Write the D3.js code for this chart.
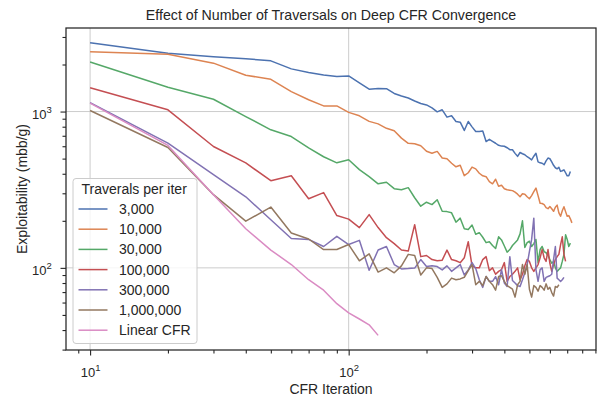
<!DOCTYPE html>
<html>
<head>
<meta charset="utf-8">
<script src="https://cdn.jsdelivr.net/npm/d3@7"></script>
<style>
  body { margin: 0; background: #fff; }
  svg text { font-family: "Liberation Sans", Arial, sans-serif; fill: #262626; }
</style>
</head>
<body>
<div id="chart"></div>
<script>
// CFR iterations at which exploitability was measured
const iterations = [10, 20, 30, 40, 50, 60, 70, 80, 90, 100, 110, 120, 130, 140, 150, 160, 170, 180, 190, 200,
    210, 220, 230, 240, 250, 260, 270, 280, 290, 300, 310, 320, 330, 340, 350, 360, 370, 380, 390, 400,
    410, 420, 430, 440, 450, 460, 470, 480, 490, 500, 510, 520, 530, 540, 550, 560, 570, 580, 590, 600,
    610, 620, 630, 640, 650, 660, 670, 680, 690, 700, 710, 720, 730]

const seriesNames = ["3,000", "10,000", "30,000", "100,000", "300,000", "1,000,000", "Linear CFR"]

const trav3k = [2760, 2360, 2245, 2180, 2110, 1875, 1780, 1715, 1678, 1690,
    1525, 1390, 1403, 1400, 1306, 1259, 1222, 1169, 1127, 1103,
    1056, 996, 1026, 921, 939, 863, 855, 757, 863, 798,
    745, 745, 750, 643, 664, 645, 627, 608, 601, 600,
    587, 570, 570, 540, 517, 547, 537, 529, 514, 503,
    491, 518, 541, 477, 470, 467, 457, 484, 504, 499,
    477, 453, 437, 430, 440, 414, 418, 424, 406, 388,
    388, 414]
const trav10k = [2415, 2328, 2040, 1708, 1609, 1342, 1190, 1087, 1087, 988,
    939, 865, 834, 781, 753, 676, 626, 622, 604, 557,
    541, 556, 504, 499, 467, 443, 453, 389, 406, 441,
    430, 403, 388, 383, 356, 345, 369, 333, 338, 321,
    316, 314, 312, 305, 296, 285, 298, 296, 285, 277,
    290, 307, 324, 290, 259, 258, 254, 243, 239, 247,
    239, 230, 244, 252, 225, 214, 232, 246, 229, 214,
    216, 206, 194]
const trav30k = [2075, 1432, 1199, 929, 764, 692, 586, 514, 470, 492,
    425, 383, 345, 353, 321, 316, 326, 281, 248, 263,
    254, 273, 230, 229, 225, 196, 208, 178, 176, 188,
    164, 168, 157, 145, 147, 139, 133, 158, 151, 138,
    126, 131, 139, 145, 151, 165, 200, 135, 145, 148,
    137, 143, 152, 108, 131, 137, 127, 125, 120, 113,
    107, 110, 100, 95, 97.5, 100, 110, 122, 163, 152,
    137, 144]
const trav100k = [1422, 1026, 598, 469, 361, 388, 277, 303, 216, 205,
    181, 219, 181, 156, 143, 130, 128, 189, 118, 120,
    113, 111, 112, 130, 113, 111, 108, 116, 147, 103,
    100, 100, 113, 118, 96, 100, 91, 95, 97.5, 108,
    82, 88, 91, 95, 100, 84, 91, 103, 113, 110,
    100, 95, 100, 105, 116, 131, 116, 110, 131, 107,
    95, 105, 113, 118, 122, 141, 158, 122, 110]
const trav300k = [1140, 628, 395, 285, 203, 154, 152, 137, 159, 141,
    150, 96.6, 130, 137, 105, 98.5, 99, 99.7, 113, 102,
    103, 102, 97, 103, 95, 100, 105, 90, 97, 108,
    99, 84, 75, 88, 82, 82, 88, 78, 97.5, 80,
    76, 118, 83, 80, 77, 76, 84, 93, 105, 127,
    152, 208, 97.5, 82, 97.5, 100, 82, 87, 88, 89,
    91, 113, 137, 86, 84, 82, 84, 87]
const trav1m = [1015, 589, 294, 199, 245, 167, 153, 131, 131, 141,
    111, 123, 94, 100, 93, 103, 122, 120, 90, 100,
    99, 87, 75, 79, 86, 84, 85, 87, 96, 105,
    78, 82, 77, 88, 82, 78, 72, 88, 89, 82,
    77, 75, 73, 65, 78, 82, 105, 91, 105, 73,
    65, 77, 75, 71, 77, 75, 72, 79, 73, 75,
    69.5, 66, 76, 75, 78]
const linearCfr = [1132, 607, 294, 178, 130, 105, 84, 72, 59, 51.6, 47.1, 43.2, 37.0]

const colors = ["#4c72b0", "#dd8452", "#55a868", "#c44e52", "#8172b3", "#937860", "#da8bc3"]

const series = [trav3k, trav10k, trav30k, trav100k, trav300k, trav1m, linearCfr].map((vals, i) => ({
    name: seriesNames[i],
    color: colors[i],
    data: vals.map((v, j) => ({it: iterations[j], value: v}))
}))

const width = 600, height = 399
const margin = ({top: 28, right: 4, bottom: 49, left: 66})

const svg = d3.select('#chart').append('svg')
    .attr('width', width)
    .attr('height', height)

// matplotlib-like 5% margins in log space
function logDomain(lo, hi) {
    const a = Math.log10(lo), b = Math.log10(hi), pad = (b - a) * 0.05
    return [Math.pow(10, a - pad), Math.pow(10, b + pad)]
}

const allPts = series.flatMap(s => s.data)
const xScale = d3.scaleLog()
    .domain(logDomain(d3.min(allPts, d => d.it), d3.max(allPts, d => d.it)))
    .range([margin.left, width - margin.right])
const yScale = d3.scaleLog()
    .domain(logDomain(d3.min(allPts, d => d.value), d3.max(allPts, d => d.value)))
    .range([height - margin.bottom, margin.top])

const isMajor = v => Math.abs(Math.log10(v) - Math.round(Math.log10(v))) < 1e-9
const xTicks = xScale.ticks()
const yTicks = yScale.ticks()

// grid on major ticks
svg.append('g').selectAll('line.gx')
    .data(xTicks.filter(isMajor))
    .join('line')
    .attr('x1', d => xScale(d)).attr('x2', d => xScale(d))
    .attr('y1', margin.top).attr('y2', height - margin.bottom)
    .attr('stroke', '#cccccc').attr('stroke-width', 1)
svg.append('g').selectAll('line.gy')
    .data(yTicks.filter(isMajor))
    .join('line')
    .attr('x1', margin.left).attr('x2', width - margin.right)
    .attr('y1', d => yScale(d)).attr('y2', d => yScale(d))
    .attr('stroke', '#cccccc').attr('stroke-width', 1)

// lines
const line = d3.line()
    .x(d => xScale(d.it))
    .y(d => yScale(d.value))

svg.append('g').selectAll('path')
    .data(series)
    .join('path')
    .attr('fill', 'none')
    .attr('stroke', d => d.color)
    .attr('stroke-width', 1.5)
    .attr('stroke-linejoin', 'round')
    .attr('d', d => line(d.data))

// axes
const supLabel = (sel, d) => {
    sel.text('10')
    sel.append('tspan').attr('dy', -6).attr('font-size', 9.5).text(Math.round(Math.log10(d)))
}

const xAxis = d3.axisBottom(xScale)
    .tickValues(xTicks)
    .tickSizeInner(0).tickSizeOuter(0).tickFormat('')
const gx = svg.append('g')
    .attr('transform', `translate(0, ${height - margin.bottom})`)
    .call(xAxis)
gx.select('.domain').remove()
gx.selectAll('.tick line')
    .attr('y2', d => isMajor(d) ? 5.5 : 3.5)
    .attr('stroke', '#262626').attr('stroke-width', 1.1)
gx.selectAll('.tick').filter(isMajor).append('text')
    .attr('y', 27).attr('x', 0)
    .attr('text-anchor', 'middle')
    .attr('font-size', 13)
    .each(function (d) { supLabel(d3.select(this), d) })

const yAxis = d3.axisLeft(yScale)
    .tickValues(yTicks)
    .tickSizeInner(0).tickSizeOuter(0).tickFormat('')
const gy = svg.append('g')
    .attr('transform', `translate(${margin.left}, 0)`)
    .call(yAxis)
gy.select('.domain').remove()
gy.selectAll('.tick line')
    .attr('x2', d => isMajor(d) ? -5.5 : -3.5)
    .attr('stroke', '#262626').attr('stroke-width', 1.1)
gy.selectAll('.tick').filter(isMajor).append('text')
    .attr('x', -34).attr('y', 6.5)
    .attr('text-anchor', 'start')
    .attr('font-size', 13)
    .each(function (d) { supLabel(d3.select(this), d) })

// frame
svg.append('rect')
    .attr('x', margin.left).attr('y', margin.top)
    .attr('width', width - margin.left - margin.right)
    .attr('height', height - margin.top - margin.bottom)
    .attr('fill', 'none').attr('stroke', '#262626').attr('stroke-width', 1.25)

// titles
const cx = (margin.left + width - margin.right) / 2
svg.append('text')
    .attr('x', cx).attr('y', 20)
    .attr('text-anchor', 'middle').attr('font-size', 14.2)
    .text('Effect of Number of Traversals on Deep CFR Convergence')
svg.append('text')
    .attr('x', cx).attr('y', 394)
    .attr('text-anchor', 'middle').attr('font-size', 14)
    .text('CFR Iteration')
svg.append('text')
    .attr('transform', `translate(27, ${(margin.top + height - margin.bottom) / 2}) rotate(-90)`)
    .attr('text-anchor', 'middle').attr('font-size', 14)
    .text('Exploitability (mbb/g)')

// legend
const legend = svg.append('g').attr('transform', 'translate(73, 178.5)')
legend.append('rect')
    .attr('width', 124).attr('height', 165).attr('rx', 3)
    .attr('fill', '#fff').attr('fill-opacity', 0.8)
    .attr('stroke', '#cccccc').attr('stroke-width', 1)
legend.append('text')
    .attr('x', 8.5).attr('y', 15)
    .attr('font-size', 14)
    .text('Traverals per iter')
const items = legend.selectAll('g.item')
    .data(series)
    .join('g')
    .attr('transform', (d, i) => `translate(0, ${30.5 + i * 20.2})`)
items.append('line')
    .attr('x1', 5.5).attr('x2', 34.5)
    .attr('stroke', d => d.color).attr('stroke-width', 1.5)
items.append('text')
    .attr('x', 46).attr('y', 5)
    .attr('font-size', 14)
    .text(d => d.name)
</script>
</body>
</html>
